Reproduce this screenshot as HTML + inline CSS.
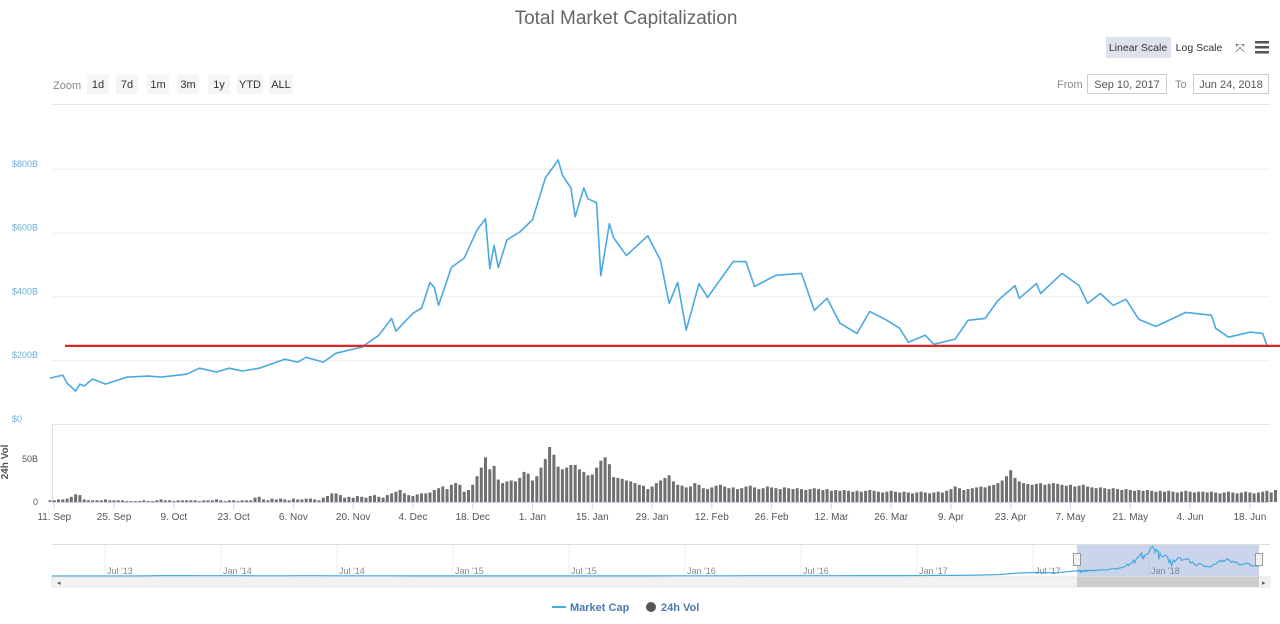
<!DOCTYPE html>
<html><head><meta charset="utf-8">
<style>
body{margin:0;background:#fff;font-family:"Liberation Sans",sans-serif;}
svg{display:block}
text{font-family:"Liberation Sans",sans-serif}
</style></head>
<body>
<svg id="c" width="1280" height="624" viewBox="0 0 1280 624">
<text x="626" y="24" text-anchor="middle" font-size="19" fill="#666">Total Market Capitalization</text>
<g>
<rect x="1106" y="37" width="65" height="21" fill="#dde3ea"/>
<text x="1138" y="51" text-anchor="middle" font-size="10.5" fill="#333">Linear Scale</text>
<text x="1199" y="51" text-anchor="middle" font-size="10.5" fill="#333">Log Scale</text>
<text x="1240" y="52" text-anchor="middle" font-size="12" fill="#555">⤧</text>
<g><rect x="1255" y="41" width="14" height="2.5" fill="#555"/><rect x="1255" y="46" width="14" height="2.5" fill="#555"/><rect x="1255" y="51" width="14" height="2.5" fill="#555"/></g>
</g>
<g>
<text x="53" y="89" font-size="11" fill="#888">Zoom</text>
</g>
<g>
<text x="1057" y="88" font-size="11" fill="#888">From</text>
<rect x="1087.5" y="74.5" width="79" height="19" fill="#fff" stroke="#ccc"/>
<text x="1127" y="88" text-anchor="middle" font-size="11" fill="#555">Sep 10, 2017</text>
<text x="1175" y="88" font-size="11" fill="#888">To</text>
<rect x="1193.5" y="74.5" width="75" height="19" fill="#fff" stroke="#ccc"/>
<text x="1231" y="88" text-anchor="middle" font-size="11" fill="#555">Jun 24, 2018</text>
</g>
<line x1="52" y1="104.5" x2="1270" y2="104.5" stroke="#e6e6e6"/>
<g id="main"></g>
<g id="vol"></g>
<g id="nav"></g>
<g>
<g><line x1="552" y1="607" x2="566" y2="607" stroke="#4aa9e0" stroke-width="2"/><text x="570" y="611" font-size="11" font-weight="bold" fill="#4a7ab0">Market Cap</text></g>
<g><circle cx="651" cy="607" r="5" fill="#555"/><text x="661" y="611" font-size="11" font-weight="bold" fill="#4a7ab0">24h Vol</text></g>
</g>
</svg>
<script>
const capDays=[0,1,3,4,6,7,8,10,13,18,23,26,32,35,39,42,45,49,55,58,60,64,67,73,77,80,81,85,87,89,90,91,94,97,100,102,103,104,105,107,110,113,116,117,119,120,122,123,125,126,128,129,131,132,135,137,140,143,145,147,149,152,154,160,163,165,170,176,179,182,185,189,192,196,199,201,205,207,212,215,219,222,226,227,231,232,237,241,243,246,249,252,255,259,266,272,273,276,281,284,285];
const capValues=[144,147,153,128,103,125,119,141,125,147,150,147,156,175,163,175,166,175,203,194,209,194,222,241,278,331,291,347,363,444,428,372,491,520,608,643,487,560,490,577,602,640,771,790,828,780,740,650,740,706,693,465,628,584,528,553,590,512,378,444,294,440,397,509,509,431,466,472,356,394,316,284,353,325,300,256,278,250,266,325,331,387,434,394,440,409,472,434,378,409,372,391,328,306,350,341,300,272,288,284,247];
const volValues=[2,2,3,3,4,6,9,8,3,2, 2,2,2,3,2,2,2,2,1,1, 1,1,2,1,1,2,3,2,2,1, 2,2,2,2,2,1,2,2,2,3, 2,1,2,2,1,2,2,2,5,6, 3,2,4,3,4,3,2,4,3,3, 4,4,3,2,5,7,10,10,8,5, 6,5,7,6,5,7,8,6,5,8, 10,12,14,10,8,7,9,10,10,11, 14,16,18,15,20,22,20,12,14,20, 30,40,52,38,42,26,22,24,25,24, 28,35,33,25,30,40,50,64,55,41, 38,40,43,43,38,35,31,32,40,48, 52,44,29,28,27,25,24,22,20,19, 15,18,22,25,28,31,24,20,19,17, 18,22,20,16,15,17,19,20,18,16, 17,15,16,18,19,17,15,16,18,17, 16,15,17,16,15,16,15,14,15,16, 15,14,15,13,14,13,14,13,12,13, 12,13,14,13,12,11,12,13,12,11, 12,11,10,11,12,11,10,11,12,11, 13,15,18,16,14,15,16,17,18,17, 19,20,22,25,30,37,28,24,22,21, 20,21,22,20,21,22,21,20,19,20, 18,19,20,18,17,16,17,16,15,16, 15,14,15,14,13,14,13,14,13,12, 13,12,13,12,11,12,13,12,11,12, 12,11,12,11,10,11,12,11,10,11, 12,11,10,11,12,13,11,14];
const yTicks=[0,200,400,600,800];
const yTickLabels=["$0","$200B","$400B","$600B","$800B"];
const volTicks=[0,50];
const volTickLabels=["0","50B"];
const xTickDays=[1,15,29,43,57,71,85,99,113,127,141,155,169,183,197,211,225,239,253,267,281];
const xTickLabels=["11. Sep","25. Sep","9. Oct","23. Oct","6. Nov","20. Nov","4. Dec","18. Dec","1. Jan","15. Jan","29. Jan","12. Feb","26. Feb","12. Mar","26. Mar","9. Apr","23. Apr","7. May","21. May","4. Jun","18. Jun"];
const zoomLabels=["1d","7d","1m","3m","1y","YTD","ALL"];
const supportLevel=245;
const navPreValues=[1,1,1,1,1,2,10,10,8,7,7,6,6,8,7,6,5,5,5,4,4,3,3,3,3,3,3,3,3,3,4,4,5,5,6,6,7,7,7,7,8,9,10,11,12,14,17,18,25,40,80,100,90,140,160];
const navLabels=["Jul '13","Jan '14","Jul '14","Jan '15","Jul '15","Jan '16","Jul '16","Jan '17","Jul '17","Jan '18"];

const NS="http://www.w3.org/2000/svg";
function mk(tag,attrs,parent,txt){const e=document.createElementNS(NS,tag);for(const k in attrs)e.setAttribute(k,attrs[k]);if(txt!==undefined)e.textContent=txt;parent.appendChild(e);return e;}
const X=d=>50+d*4.27;
const Y=v=>424-v*0.319;
const VY=v=>502-v*0.86;
const svg=document.getElementById('c');

const zx=[87,116,147,177,208,237,269],zw=[22,22,22,22,22,26,24];
zoomLabels.forEach((l,i)=>{
  const r=mk('rect',{x:zx[i],y:75,width:zw[i],height:19,fill:'#f5f5f5'},svg);
  
  
  const t=mk('text',{x:zx[i]+zw[i]/2,y:88,'text-anchor':'middle','font-size':11,fill:'#333'},svg,l);
  
  
});

const main=document.getElementById('main');
yTicks.forEach((v,i)=>{
  const y=Y(v);
  if(v>0){const g=mk('line',{x1:52,x2:1270,y1:y+0.5,y2:y+0.5,stroke:'#ececec'},main);
  
  }
  const t=mk('text',{x:12,y:y-2,'font-size':9,fill:'#6aaedc'},main,yTickLabels[i]);
  
  
});
let d='';capDays.forEach((dd,i)=>{d+=(i?'L':'M')+X(dd).toFixed(1)+' '+Y(capValues[i]).toFixed(1);});
const line=mk('path',{d:d,fill:'none',stroke:'#4aa9e0','stroke-width':1.6,'stroke-linejoin':'round'},main);


const red=mk('line',{x1:65,x2:1280,y1:Y(supportLevel),y2:Y(supportLevel),stroke:'#d9262b','stroke-width':2.2},main);



const vol=document.getElementById('vol');
const vb=mk('line',{x1:52,x2:1270,y1:424.5,y2:424.5,stroke:'#e6e6e6'},vol);


const va=mk('line',{x1:52.5,x2:52.5,y1:424,y2:503,stroke:'#ddd'},vol);


volTicks.forEach((v,i)=>{
  const t=mk('text',{x:38,y:VY(v)+3,'text-anchor':'end','font-size':9,fill:'#555'},vol,volTickLabels[i]);
  
  
});
const vt=mk('text',{x:0,y:0,'font-size':10,'font-weight':'bold',fill:'#555',transform:'translate(8,462) rotate(-90)','text-anchor':'middle'},vol,'24h Vol');


volValues.forEach((v,i)=>{
  const x=X(i);
  const b=mk('rect',{x:(x-1.5).toFixed(1),y:VY(v).toFixed(1),width:3,height:(v*0.86).toFixed(1),fill:'#707070'},vol);
  
  
});
const xl=mk('line',{x1:52,x2:1270,y1:502.5,y2:502.5,stroke:'#ccd6eb'},vol);


xTickDays.forEach((dd,i)=>{
  const x=X(dd);
  const tk=mk('line',{x1:x,x2:x,y1:503,y2:509,stroke:'#ccd6eb'},vol);
  
  
  const t=mk('text',{x:x,y:520,'text-anchor':'middle','font-size':10,fill:'#555'},vol,xTickLabels[i]);
  
  
});

const nav=document.getElementById('nav');
const nb=mk('line',{x1:52,x2:1270,y1:544.5,y2:544.5,stroke:'#ddd'},nav);


const NY=v=>576-v*0.036;
const selX0=1077,selX1=1259;
navLabels.forEach((l,i)=>{
  const x=105+i*116;
  const g=mk('line',{x1:x,x2:x,y1:545,y2:577,stroke:'#eee'},nav);
  
  
  const t=mk('text',{x:x+2,y:574,'font-size':9,fill:'#888'},nav,l);
  
  
});
const sel=mk('rect',{x:selX0,y:545,width:selX1-selX0,height:32,fill:'rgba(102,133,194,0.35)'},nav);


let nd='';
navPreValues.forEach((v,i)=>{const x=Math.max(52,47+i*19.4);nd+=(i?'L':'M')+x.toFixed(1)+' '+NY(v).toFixed(1);});
capDays.forEach((dd,i)=>{nd+='L'+(selX0+dd*(selX1-selX0)/287).toFixed(1)+' '+NY(capValues[i]).toFixed(1);});
const nl=mk('path',{d:nd,fill:'none',stroke:'#4aa9e0','stroke-width':1.2},nav);


[selX0,selX1].forEach(x=>{
  const h=mk('rect',{x:x-3.5,y:553.5,width:7,height:12,fill:'#f2f2f2',stroke:'#999'},nav);
  
  
});
const sb=mk('rect',{x:52,y:577,width:1218,height:10,fill:'#f2f2f2',stroke:'#e6e6e6'},nav);


const st=mk('rect',{x:selX0,y:577,width:selX1-selX0,height:10,fill:'#ccc'},nav);


const la=mk('text',{x:57,y:585,'font-size':7,fill:'#555'},nav,'◂');


const ra=mk('text',{x:1262,y:585,'font-size':7,fill:'#555'},nav,'▸');


</script>
</body></html>
